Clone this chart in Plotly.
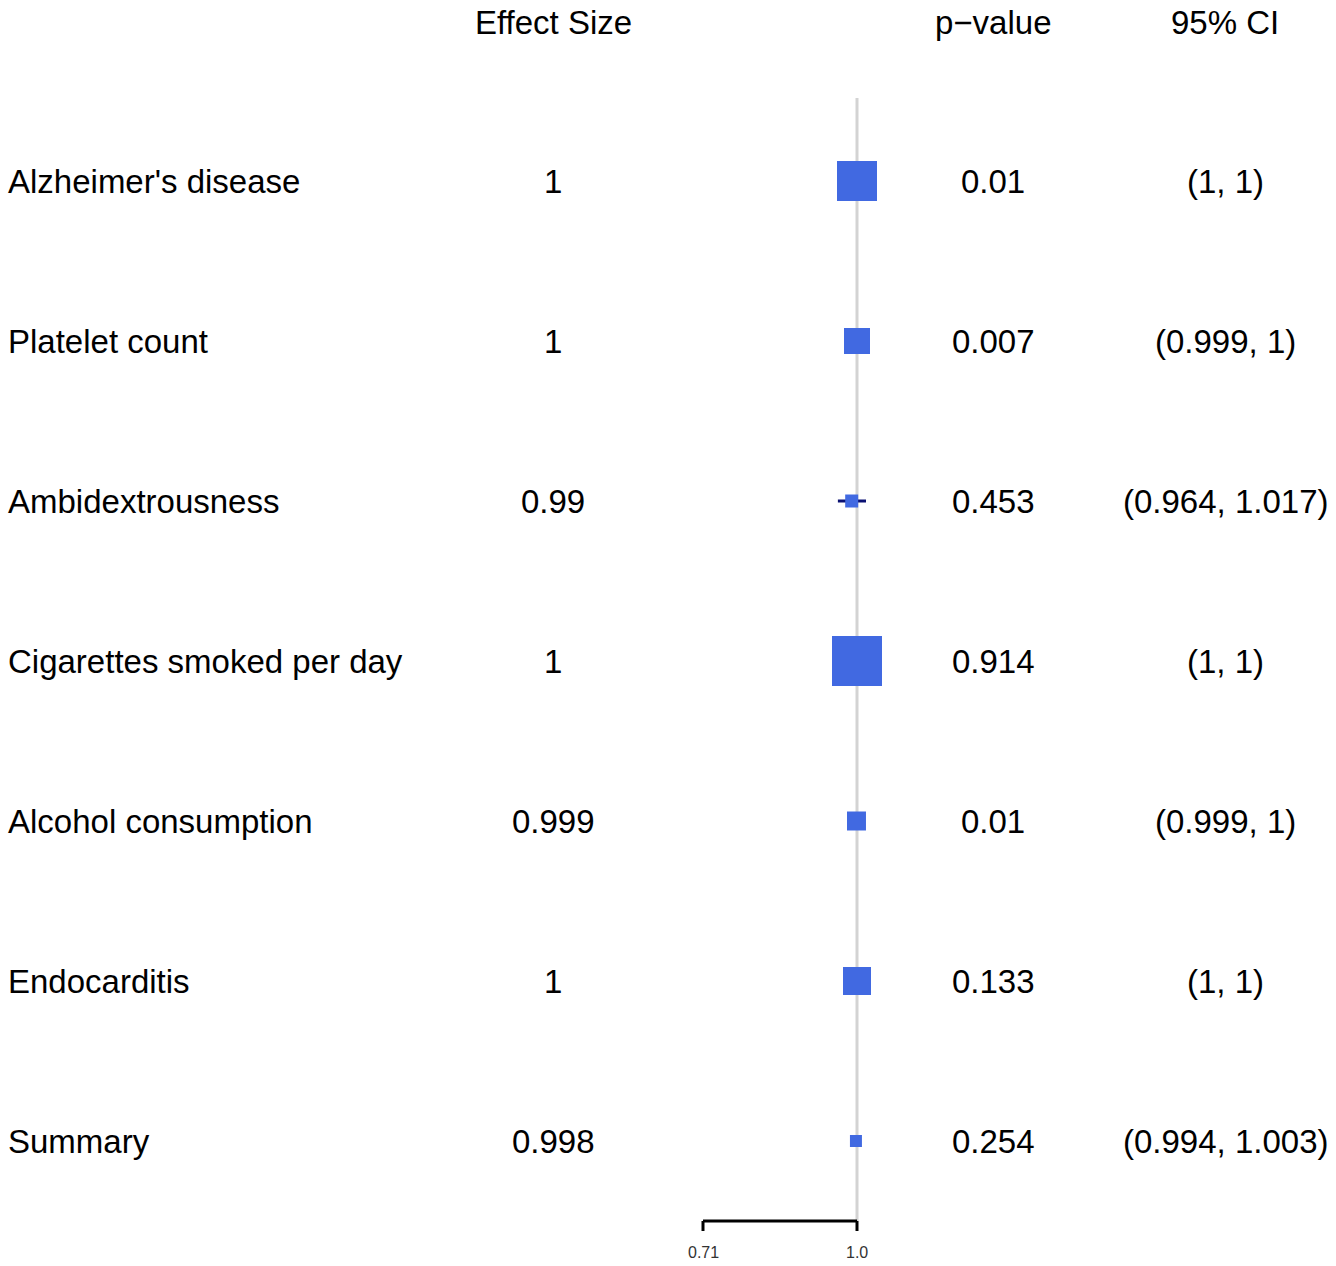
import plotly.graph_objects as go

# ---- data ----
labels = ["Alzheimer's disease", "Platelet count", "Ambidextrousness",
          "Cigarettes smoked per day", "Alcohol consumption", "Endocarditis", "Summary"]
effect = [1.0, 1.0, 0.99, 1.0, 0.999, 1.0, 0.998]
ci_low = [1.0, 0.999, 0.964, 1.0, 0.999, 1.0, 0.994]
ci_high = [1.0, 1.0, 1.017, 1.0, 1.0, 1.0, 1.003]
pvals = ["0.01", "0.007", "0.453", "0.914", "0.01", "0.133", "0.254"]
effect_txt = ["1", "1", "0.99", "1", "0.999", "1", "0.998"]
ci_txt = ["(1, 1)", "(0.999, 1)", "(0.964, 1.017)", "(1, 1)", "(0.999, 1)", "(1, 1)", "(0.994, 1.003)"]
weights = [40, 26, 13, 50, 19, 28, 12]
headers = ["Effect Size", "p\u2212value", "95% CI"]
tick_vals = [0.71, 1.0]
tick_text = ["0.71", "1.0"]

W, H = 1336, 1266
FONT = "Liberation Sans, Arial, sans-serif"
FS = 33

# x scale: 0.71 -> 703px, 1.0 -> 857px
ppu = (857 - 703) / (1.0 - 0.71)
dom_l, dom_r = 690, 900
x0 = 1.0 - (857 - dom_l) / ppu
x1 = 1.0 + (dom_r - 857) / ppu

# y scale: row i center at 181 + 160*i px
row0, step = 181, 160


def ry(px):
    return (px - row0) / step


y_top = ry(0)
y_bot = ry(H)
rows = list(range(len(labels)))

fig = go.Figure()

fig.add_trace(go.Scatter(
    x=effect, y=rows, mode="markers",
    marker=dict(symbol="square", size=weights, color="#4169E1", opacity=1, line=dict(width=0)),
    error_x=dict(type="data", symmetric=False,
                 array=[h - e for h, e in zip(ci_high, effect)],
                 arrayminus=[e - l for e, l in zip(effect, ci_low)],
                 color="#0A1172", thickness=3, width=0),
    cliponaxis=False, hoverinfo="skip", showlegend=False,
))

shapes = []
shapes.append(dict(type="line", xref="x", yref="y", x0=1.0, x1=1.0,
                   y0=ry(98), y1=ry(1221),
                   line=dict(color="#d3d3d3", width=3), layer="below"))
ay = ry(1221)
shapes.append(dict(type="line", xref="x", yref="y", x0=tick_vals[0], x1=tick_vals[-1],
                   y0=ay, y1=ay, line=dict(color="black", width=3)))
for tv in tick_vals:
    shapes.append(dict(type="line", xref="x", yref="y", x0=tv, x1=tv,
                       y0=ay, y1=ry(1231), line=dict(color="black", width=3)))

annotations = []
for tv, tt in zip(tick_vals, tick_text):
    annotations.append(dict(x=tv, y=ry(1252), xref="x", yref="y", text=tt,
                            showarrow=False, font=dict(family=FONT, size=16, color="#333333"),
                            xanchor="center", yanchor="middle", borderpad=0))

col_x = [553, 993, 1225]
for hx, ht in zip(col_x, headers):
    annotations.append(dict(x=hx / W, y=ry(22), xref="paper", yref="y", text=ht,
                            showarrow=False, font=dict(family=FONT, size=FS, color="black"),
                            xanchor="center", yanchor="middle", borderpad=0))

for i in rows:
    annotations.append(dict(x=6 / W, y=i, xref="paper", yref="y", text=labels[i],
                            showarrow=False, font=dict(family=FONT, size=FS, color="black"),
                            xanchor="left", yanchor="middle"))
    for cx, txt in zip(col_x, [effect_txt[i], pvals[i], ci_txt[i]]):
        annotations.append(dict(x=cx / W, y=i, xref="paper", yref="y", text=txt,
                                showarrow=False, font=dict(family=FONT, size=FS, color="black"),
                                xanchor="center", yanchor="middle"))

fig.update_layout(
    width=W, height=H,
    margin=dict(l=0, r=0, t=0, b=0),
    paper_bgcolor="white", plot_bgcolor="white",
    xaxis=dict(domain=[dom_l / W, dom_r / W], range=[x0, x1], visible=False, fixedrange=True),
    yaxis=dict(domain=[0, 1], range=[y_bot, y_top], visible=False, fixedrange=True),
    shapes=shapes, annotations=annotations,
)

fig.write_html("out.html",
               config={"displayModeBar": False, "staticPlot": True},
               post_script="document.body.style.margin='0';document.body.style.overflow='hidden';")
